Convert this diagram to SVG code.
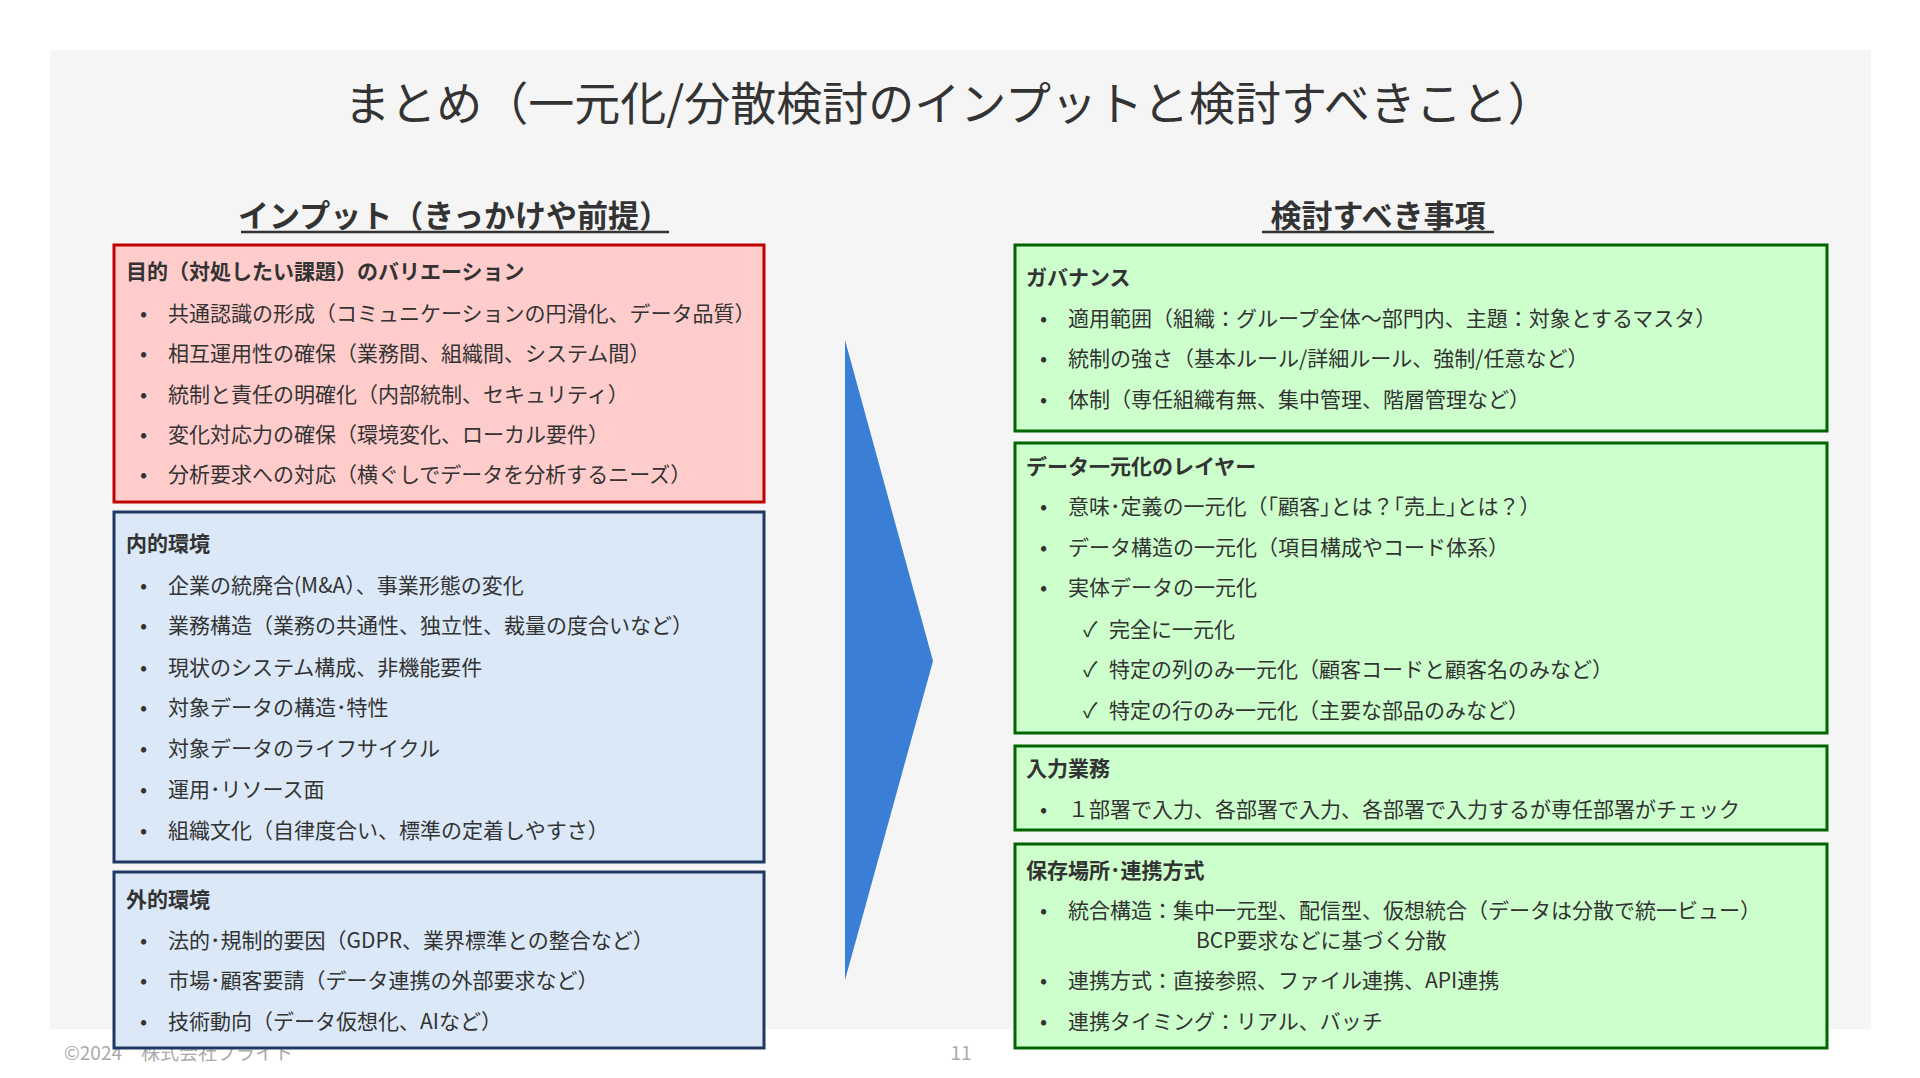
<svg xmlns="http://www.w3.org/2000/svg" width="1920" height="1078" viewBox="0 0 1920 1078">
<style>
text{font-family:"Noto Sans CJK JP","Noto Sans",sans-serif;fill:#333}
.t{font-size:21px}
.h{font-size:21px;font-weight:bold}
.red{fill:#ffcccc;stroke:#c00000;stroke-width:3}
.blue{fill:#dae8f7;stroke:#1f3864;stroke-width:3}
.grn{fill:#ccffcc;stroke:#006400;stroke-width:3}
.ft{font-size:19px;fill:#aaa}
</style>
<rect x="0" y="0" width="1920" height="1078" fill="#fff"/>
<rect x="50" y="50" width="1821" height="979" fill="#f5f5f5"/>
<text x="949" y="120" text-anchor="middle" style="font-size:46px">まとめ（一元化/分散検討のインプットと検討すべきこと）</text>
<text class="ft" x="64" y="1060">©2024　株式会社ブライト</text>
<text class="ft" x="961" y="1060" text-anchor="middle">11</text>
<text x="454" y="227" text-anchor="middle" style="font-size:31px;font-weight:bold">インプット（きっかけや前提）</text>
<line x1="241" y1="232" x2="669" y2="232" stroke="#333" stroke-width="2.5"/>
<text x="1378" y="227" text-anchor="middle" style="font-size:31px;font-weight:bold">検討すべき事項</text>
<line x1="1262" y1="232" x2="1494" y2="232" stroke="#333" stroke-width="2.5"/>
<g id="connectors"><polygon points="845,340 933,661 845,980" fill="#3a7fd5"/></g>
<g id="purpose">
<rect class="red" x="114" y="245" width="650" height="257"/>
<text class="h" x="126" y="279">目的（対処したい課題）のバリエーション</text>
<g class="t">
<text x="140" y="321">•</text><text x="168" y="321">共通認識の形成（コミュニケーションの円滑化、データ品質）</text>
<text x="140" y="361">•</text><text x="168" y="361">相互運用性の確保（業務間、組織間、システム間）</text>
<text x="140" y="402">•</text><text x="168" y="402">統制と責任の明確化（内部統制、セキュリティ）</text>
<text x="140" y="442">•</text><text x="168" y="442">変化対応力の確保（環境変化、ローカル要件）</text>
<text x="140" y="482">•</text><text x="168" y="482">分析要求への対応（横ぐしでデータを分析するニーズ）</text>
</g></g>
<g id="internal">
<rect class="blue" x="114" y="512" width="650" height="350"/>
<text class="h" x="126" y="551">内的環境</text>
<g class="t">
<text x="140" y="593">•</text><text x="168" y="593">企業の統廃合(M&amp;A）、事業形態の変化</text>
<text x="140" y="633">•</text><text x="168" y="633">業務構造（業務の共通性、独立性、裁量の度合いなど）</text>
<text x="140" y="675">•</text><text x="168" y="675">現状のシステム構成、非機能要件</text>
<text x="140" y="715">•</text><text x="168" y="715">対象データの構造･特性</text>
<text x="140" y="756">•</text><text x="168" y="756">対象データのライフサイクル</text>
<text x="140" y="797">•</text><text x="168" y="797">運用･リソース面</text>
<text x="140" y="838">•</text><text x="168" y="838">組織文化（自律度合い、標準の定着しやすさ）</text>
</g></g>
<g id="external">
<rect class="blue" x="114" y="872" width="650" height="176"/>
<text class="h" x="126" y="907">外的環境</text>
<g class="t">
<text x="140" y="948">•</text><text x="168" y="948">法的･規制的要因（GDPR、業界標準との整合など）</text>
<text x="140" y="988">•</text><text x="168" y="988">市場･顧客要請（データ連携の外部要求など）</text>
<text x="140" y="1029">•</text><text x="168" y="1029">技術動向（データ仮想化、AIなど）</text>
</g></g>
<g id="governance">
<rect class="grn" x="1015" y="245" width="812" height="186"/>
<text class="h" x="1026" y="285">ガバナンス</text>
<g class="t">
<text x="1040" y="326">•</text><text x="1068" y="326">適用範囲（組織：グループ全体～部門内、主題：対象とするマスタ）</text>
<text x="1040" y="366">•</text><text x="1068" y="366">統制の強さ（基本ルール/詳細ルール、強制/任意など）</text>
<text x="1040" y="407">•</text><text x="1068" y="407">体制（専任組織有無、集中管理、階層管理など）</text>
</g></g>
<g id="layer">
<rect class="grn" x="1015" y="443" width="812" height="290"/>
<text class="h" x="1026" y="474">データ一元化のレイヤー</text>
<g class="t">
<text x="1040" y="514">•</text><text x="1068" y="514">意味･定義の一元化（｢顧客｣とは？｢売上｣とは？）</text>
<text x="1040" y="555">•</text><text x="1068" y="555">データ構造の一元化（項目構成やコード体系）</text>
<text x="1040" y="595">•</text><text x="1068" y="595">実体データの一元化</text>
<text x="1083" y="637">✓</text><text x="1109" y="637">完全に一元化</text>
<text x="1083" y="677">✓</text><text x="1109" y="677">特定の列のみ一元化（顧客コードと顧客名のみなど）</text>
<text x="1083" y="718">✓</text><text x="1109" y="718">特定の行のみ一元化（主要な部品のみなど）</text>
</g></g>
<g id="input">
<rect class="grn" x="1015" y="746" width="812" height="84"/>
<text class="h" x="1026" y="776">入力業務</text>
<g class="t">
<text x="1040" y="817">•</text><text x="1068" y="817">１部署で入力、各部署で入力、各部署で入力するが専任部署がチェック</text>
</g></g>
<g id="storage">
<rect class="grn" x="1015" y="844" width="812" height="204"/>
<text class="h" x="1026" y="878">保存場所･連携方式</text>
<g class="t">
<text x="1040" y="918">•</text><text x="1068" y="918">統合構造：集中一元型、配信型、仮想統合（データは分散で統一ビュー）</text>
<text x="1196" y="948">BCP要求などに基づく分散</text>
<text x="1040" y="988">•</text><text x="1068" y="988">連携方式：直接参照、ファイル連携、API連携</text>
<text x="1040" y="1029">•</text><text x="1068" y="1029">連携タイミング：リアル、バッチ</text>
</g></g>
</svg>
